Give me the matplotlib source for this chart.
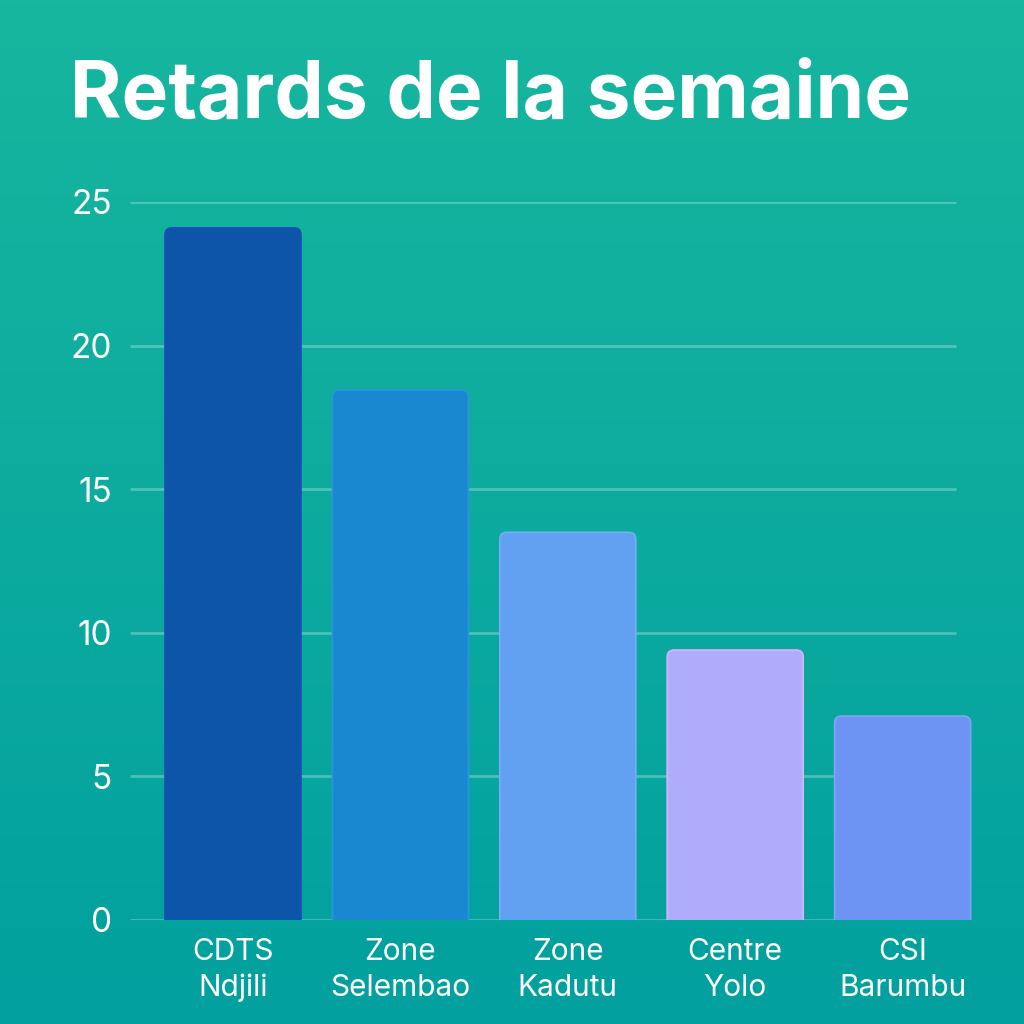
import matplotlib
matplotlib.use("Agg")
import matplotlib.pyplot as plt
import numpy as np
from matplotlib.patches import FancyBboxPatch
from matplotlib.colors import LinearSegmentedColormap

title = "Retards de la semaine"
categories = ["CDTS\nNdjili", "Zone\nSelembao", "Zone\nKadutu", "Centre\nYolo", "CSI\nBarumbu"]
values = [24.1, 18.45, 13.5, 9.4, 7.1]
bar_colors = ["#0d55a8", "#1a87d1", "#62a0f2", "#b0acfc", "#6e94f3"]
edge_colors = ["#1a4fb8", "#2a95dc", "#74aef4", "#d6b6f6", "#82a4f4"]
yticks = [0, 5, 10, 15, 20, 25]

plt.rcParams['font.family'] = ['Inter', 'DejaVu Sans']

fig = plt.figure(figsize=(10.24, 10.24), dpi=100)

# gradient background
bg = fig.add_axes([0, 0, 1, 1], zorder=-10)
cmap = LinearSegmentedColormap.from_list("bg", ["#17b69e", "#02a09f"])
grad = np.linspace(0, 1, 256).reshape(-1, 1)
bg.imshow(grad, aspect="auto", cmap=cmap, extent=[0, 1, 0, 1], origin="upper")
bg.set_axis_off()

W = 1024.0
left_px, right_px = 130, 1000
bottom_px, top_px = 920, 202
ax = fig.add_axes([left_px / W, (W - bottom_px) / W, (right_px - left_px) / W, (bottom_px - top_px) / W])
ax.patch.set_alpha(0)

step = 167.4
x0 = 233.0
xmin = (left_px - x0) / step
xmax = (right_px - x0) / step
ax.set_xlim(xmin, xmax)
ax.set_ylim(0, 25)

grid_end = (956 - x0) / step
ax.hlines(yticks, xmin, grid_end, colors="white", alpha=0.28, linewidth=2, zorder=1)

xs = np.arange(len(values))
width = 136 / step
ypx = (bottom_px - top_px) / 25.0
r_px = 7
rs = r_px / step
aspect = (r_px / ypx) / rs
for x, v, c, ec in zip(xs, values, bar_colors, edge_colors):
    p = FancyBboxPatch((x - width / 2, -1), width, v + 1,
                       boxstyle=f"round,pad=0,rounding_size={rs}",
                       mutation_aspect=aspect, facecolor=c, edgecolor=ec,
                       linewidth=1.2, zorder=2, clip_on=True)
    ax.add_patch(p)

ax.set_yticks(yticks)
ax.set_yticklabels([str(t) for t in yticks], color="white", fontsize=24)
ax.set_xticks(xs)
ax.set_xticklabels(categories, color="white", fontsize=21.5, linespacing=1.35)
ax.tick_params(axis="both", length=0)
ax.tick_params(axis="y", pad=13)
ax.tick_params(axis="x", pad=13)
for s in ax.spines.values():
    s.set_visible(False)

fig.text(70 / W, (W - 118) / W, title, color="white", fontsize=56.5, fontweight="bold",
         ha="left", va="baseline")

fig.savefig("out.png", dpi=100)
